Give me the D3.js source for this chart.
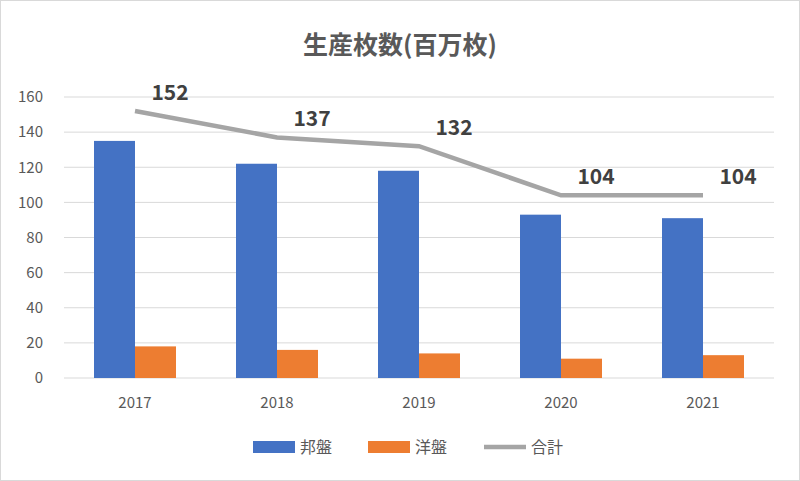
<!DOCTYPE html>
<html>
<head>
<meta charset="utf-8">
<script src="https://cdn.jsdelivr.net/npm/d3@7"></script>
<style>
  body { margin: 0; background: #fff; }
  text { font-family: "Noto Sans CJK JP", "Noto Sans", sans-serif; fill: #595959; }
</style>
</head>
<body>
<svg id="chart" width="800" height="481"></svg>
<script>
// data
var years = ['2017', '2018', '2019', '2020', '2021'];
var hoban = [135, 122, 118, 93, 91];
var yoban = [18, 16, 14, 11, 13];
var total = [152, 137, 132, 104, 104];
var yTicks = [0, 20, 40, 60, 80, 100, 120, 140, 160];

var svg = d3.select('#chart');
// note: "top" is taken by window.top, so use other names
var plotLeft = 64, plotRight = 774, plotTop = 97, plotBottom = 378;

svg.append('rect').attr('x', 0.5).attr('y', 0.5).attr('width', 799).attr('height', 480)
  .attr('fill', '#fff').attr('stroke', '#d9d9d9');

var x = d3.scaleBand().domain(years).range([plotLeft, plotRight]);
var y = d3.scaleLinear().domain([0, 160]).range([plotBottom, plotTop]);
var bw = 41;

// gridlines
svg.selectAll('.grid').data(yTicks).enter().append('line')
  .attr('x1', plotLeft).attr('x2', plotRight)
  .attr('y1', function(d) { return y(d); }).attr('y2', function(d) { return y(d); })
  .attr('stroke', '#d9d9d9');

var yAxis = svg.append('g').attr('transform', 'translate(' + (plotLeft - 18) + ',0)')
  .call(d3.axisLeft(y).tickValues(yTicks).tickSize(0));
yAxis.select('.domain').remove();
yAxis.selectAll('text').attr('font-size', 15).style('fill', '#595959');

var xAxis = svg.append('g').attr('transform', 'translate(0,' + (plotBottom + 16) + ')')
  .call(d3.axisBottom(x).tickSize(0));
xAxis.select('.domain').remove();
xAxis.selectAll('text').attr('font-size', 15).style('fill', '#595959');

function mid(d) { return x(d) + x.bandwidth() / 2; }

svg.selectAll('.hoban').data(years).enter().append('rect')
  .attr('x', function(d) { return mid(d) - bw; })
  .attr('y', function(d, i) { return y(hoban[i]); })
  .attr('width', bw)
  .attr('height', function(d, i) { return plotBottom - y(hoban[i]); })
  .attr('fill', '#4472c4');

svg.selectAll('.yoban').data(years).enter().append('rect')
  .attr('x', function(d) { return mid(d); })
  .attr('y', function(d, i) { return y(yoban[i]); })
  .attr('width', bw)
  .attr('height', function(d, i) { return plotBottom - y(yoban[i]); })
  .attr('fill', '#ed7d31');

var line = d3.line()
  .x(function(d, i) { return mid(years[i]); })
  .y(function(d) { return y(d); });
svg.append('path').datum(total).attr('d', line)
  .attr('fill', 'none').attr('stroke', '#a5a5a5').attr('stroke-width', 4.5);

svg.selectAll('.lbl').data(total).enter().append('text')
  .attr('x', function(d, i) { return mid(years[i]) + 35; })
  .attr('y', function(d) { return y(d) - 11; })
  .attr('text-anchor', 'middle')
  .attr('font-size', 21).attr('font-weight', 'bold')
  .style('fill', '#404040')
  .text(function(d) { return d; });

svg.append('text').attr('x', 400).attr('y', 54).attr('text-anchor', 'middle')
  .attr('font-size', 25).attr('font-weight', 'bold').style('fill', '#595959')
  .text('生産枚数(百万枚)');

// legend
var ly = 447;
svg.append('rect').attr('x', 253).attr('y', ly - 6).attr('width', 42).attr('height', 12).attr('fill', '#4472c4');
svg.append('text').attr('x', 300).attr('y', ly + 6).attr('font-size', 16).text('邦盤');
svg.append('rect').attr('x', 368).attr('y', ly - 6).attr('width', 42).attr('height', 12).attr('fill', '#ed7d31');
svg.append('text').attr('x', 415).attr('y', ly + 6).attr('font-size', 16).text('洋盤');
svg.append('line').attr('x1', 484).attr('x2', 526).attr('y1', ly).attr('y2', ly)
  .attr('stroke', '#a5a5a5').attr('stroke-width', 4.5);
svg.append('text').attr('x', 531).attr('y', ly + 6).attr('font-size', 16).text('合計');
</script>
</body>
</html>
